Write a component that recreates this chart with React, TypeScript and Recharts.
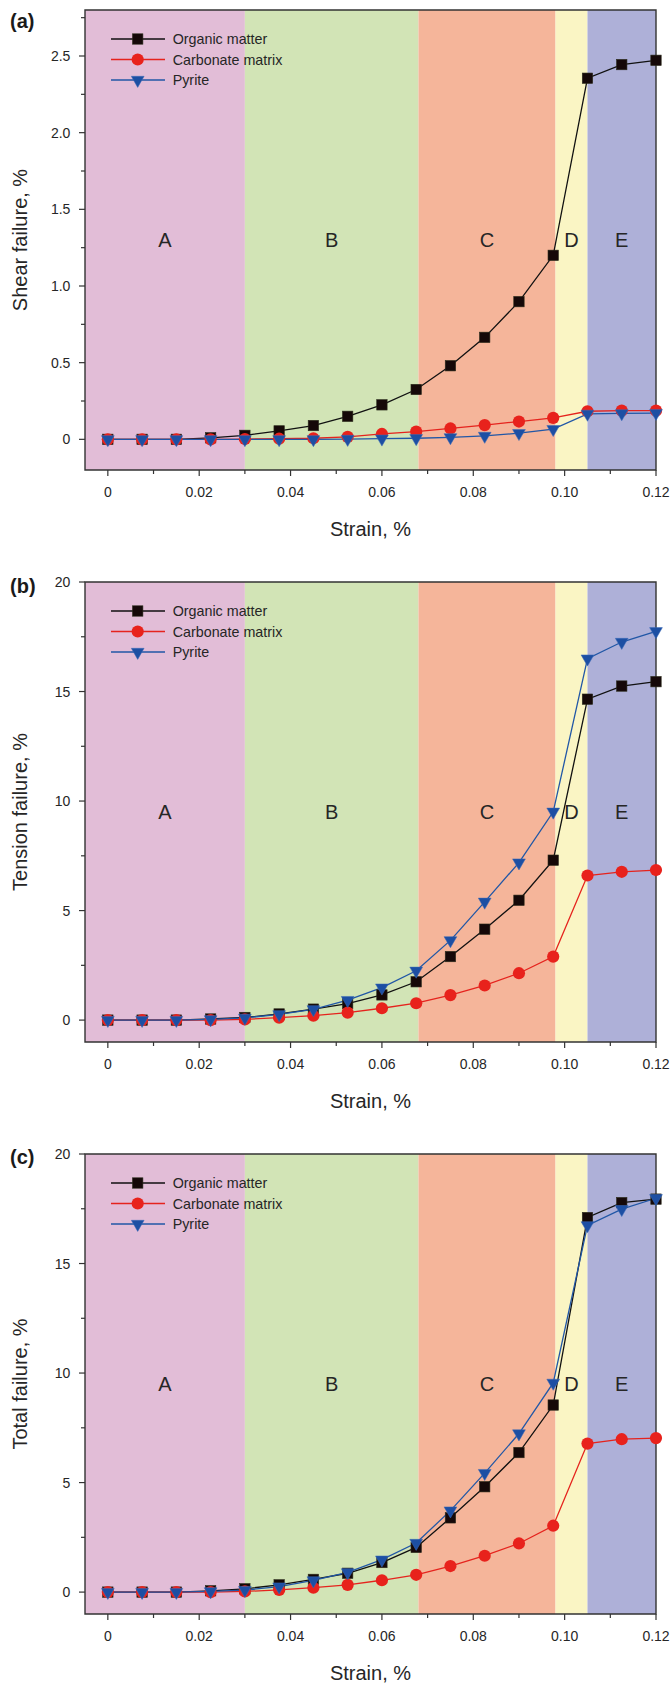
import { LineChart, Line, XAxis, YAxis, ReferenceArea, Legend } from 'recharts';

// strain, % (x)
const strain = [0, 0.0075, 0.015, 0.0225, 0.03, 0.0375, 0.045, 0.0525, 0.06, 0.0675, 0.075, 0.0825, 0.09, 0.0975, 0.105, 0.1125, 0.12];

// (a) shear failure, %
const shearOrganic = [0, 0, 0, 0.01, 0.026, 0.055, 0.09, 0.15, 0.225, 0.325, 0.48, 0.665, 0.898, 1.2, 2.355, 2.444, 2.472];
const shearCarbonate = [0, 0, 0, 0, 0.002, 0.004, 0.007, 0.016, 0.035, 0.05, 0.071, 0.093, 0.116, 0.14, 0.183, 0.187, 0.187];
const shearPyrite = [0, 0, 0, 0, 0, 0, 0, 0.002, 0.004, 0.007, 0.013, 0.022, 0.04, 0.066, 0.166, 0.169, 0.171];

// (b) tension failure, %
const tensionOrganic = [0, 0, 0, 0.05, 0.12, 0.28, 0.5, 0.75, 1.15, 1.75, 2.9, 4.15, 5.47, 7.3, 14.65, 15.25, 15.45];
const tensionCarbonate = [0, 0, 0, 0, 0.03, 0.11, 0.2, 0.34, 0.54, 0.77, 1.14, 1.58, 2.14, 2.9, 6.6, 6.77, 6.85];
const tensionPyrite = [0, 0, 0, 0.03, 0.1, 0.26, 0.49, 0.91, 1.48, 2.25, 3.64, 5.4, 7.19, 9.51, 16.5, 17.26, 17.75];

// (c) total failure, %
const totalOrganic = [0, 0, 0, 0.06, 0.15, 0.33, 0.58, 0.86, 1.35, 2.04, 3.39, 4.81, 6.37, 8.54, 17.1, 17.78, 17.94];
const totalCarbonate = [0, 0, 0, 0, 0.03, 0.1, 0.2, 0.33, 0.54, 0.79, 1.19, 1.66, 2.22, 3.03, 6.78, 6.98, 7.03];
const totalPyrite = [0, 0, 0, 0.03, 0.09, 0.25, 0.53, 0.9, 1.48, 2.24, 3.72, 5.43, 7.24, 9.55, 16.74, 17.48, 17.98];

// stage zones
const zoneNames = ['A', 'B', 'C', 'D', 'E'];
const zoneEdges = [-0.005, 0.03, 0.068, 0.098, 0.105, 0.12];
const zoneColors = ['#e2bdd7', '#d2e4b6', '#f5b59a', '#faf5c4', '#aeb0d8'];

// ticks
const xMajor = [0, 0.02, 0.04, 0.06, 0.08, 0.1, 0.12];
const xMajorLabels = ['0', '0.02', '0.04', '0.06', '0.08', '0.10', '0.12'];
const xMinor = [0.01, 0.03, 0.05, 0.07, 0.09, 0.11];
const shearMajor = [0, 0.5, 1, 1.5, 2, 2.5];
const shearLabels = ['0', '0.5', '1.0', '1.5', '2.0', '2.5'];
const shearMinor = [0.25, 0.75, 1.25, 1.75, 2.25, 2.75];
const failMajor = [0, 5, 10, 15, 20];
const failLabels = ['0', '5', '10', '15', '20'];
const failMinor = [2.5, 7.5, 12.5, 17.5];

const seriesNames = ['Organic matter', 'Carbonate matrix', 'Pyrite'];

const FONT = '"Liberation Sans", Arial, sans-serif';
const INK = '#262626';
const AXIS = '#333';
const COLORS = { organic: '#111', carbonate: '#e5231d', pyrite: '#2157a6' };
const TS = 6;
const TM = 2;

const Square = ({ cx, cy }: any) => (
  <rect x={cx - 5.2} y={cy - 5.2} width={10.4} height={10.4} fill="#150808" stroke="#2c2c1c" strokeWidth={0.6} />
);
const Circle = ({ cx, cy }: any) => <circle cx={cx} cy={cy} r={6.1} fill="#e8221c" />;
const Tri = ({ cx, cy }: any) => (
  <polygon
    points={`${cx - 6.4},${cy - 3.7} ${cx + 6.4},${cy - 3.7} ${cx},${cy + 7.4}`}
    fill="#1d4fa3"
    stroke="#3a6ab8"
    strokeWidth={0.5}
  />
);

const findIdx = (arr: number[], v: number) => arr.findIndex((m) => Math.abs(m - v) < 1e-9);

const XTick = (props: any) => {
  const { x, y, payload } = props;
  const i = findIdx(xMajor, payload.value);
  const axisY = y - TS - TM;
  return (
    <g>
      <line x1={x} x2={x} y1={axisY} y2={axisY + (i >= 0 ? 6 : 4)} stroke={AXIS} strokeWidth={1.2} />
      {i >= 0 && (
        <text x={x} y={axisY + 27} textAnchor="middle" fontSize={14} fill={INK}>
          {xMajorLabels[i]}
        </text>
      )}
    </g>
  );
};

const makeYTick = (majors: number[], labels: string[]) => (props: any) => {
  const { x, y, payload } = props;
  const i = findIdx(majors, payload.value);
  const axisX = x + TS + TM;
  return (
    <g>
      <line x1={axisX - (i >= 0 ? 6 : 4)} x2={axisX} y1={y} y2={y} stroke={AXIS} strokeWidth={1.2} />
      {i >= 0 && (
        <text x={axisX - 14.6} y={y + 5} textAnchor="end" fontSize={14} fill={INK}>
          {labels[i]}
        </text>
      )}
    </g>
  );
};

const LegendBox = () => {
  const markers = [
    <Square cx={32.7} cy={10} />,
    <Circle cx={32.7} cy={30.5} />,
    <Tri cx={32.7} cy={51} />,
  ];
  const colors = [COLORS.organic, COLORS.carbonate, COLORS.pyrite];
  return (
    <svg width={200} height={64} style={{ fontFamily: FONT, display: 'block' }}>
      {seriesNames.map((n, i) => (
        <g key={n}>
          <line x1={6} x2={60} y1={10 + i * 20.5} y2={10 + i * 20.5} stroke={colors[i]} strokeWidth={1.3} />
          {markers[i]}
          <text x={67.7} y={10 + i * 20.5 + 5} fontSize={14.3} fill={INK}>
            {n}
          </text>
        </g>
      ))}
    </svg>
  );
};

type PanelProps = {
  tag: string;
  tagTop: number;
  yLabel: string;
  organic: number[];
  carbonate: number[];
  pyrite: number[];
  domain: [number, number];
  majors: number[];
  labels: string[];
  minors: number[];
  height: number;
  bottom: number;
};

const Panel = ({ tag, tagTop, yLabel, organic, carbonate, pyrite, domain, majors, labels, minors, height, bottom }: PanelProps) => {
  const data = strain.map((s, i) => ({ strain: s, organic: organic[i], carbonate: carbonate[i], pyrite: pyrite[i] }));
  return (
    <div style={{ position: 'relative', width: 671, height }}>
      <LineChart width={671} height={height} data={data} margin={{ top: 10, right: 15, left: 0, bottom }}>
        {zoneNames.map((z, i) => (
          <ReferenceArea
            key={z}
            x1={zoneEdges[i]}
            x2={zoneEdges[i + 1]}
            fill={zoneColors[i]}
            fillOpacity={1}
            stroke="none"
            label={{ value: z, position: 'center', fontSize: 20, fill: INK }}
          />
        ))}
        <ReferenceArea x1={zoneEdges[0]} x2={zoneEdges[5]} fill="none" stroke={AXIS} strokeWidth={1.4} />
        <XAxis
          dataKey="strain"
          type="number"
          domain={[zoneEdges[0], zoneEdges[5]]}
          ticks={[...xMajor, ...xMinor]}
          interval={0}
          tickSize={TS}
          tickMargin={TM}
          tickLine={false}
          axisLine={false}
          tick={(p: any) => <XTick {...p} />}
          height={70}
          label={{ value: 'Strain, %', position: 'insideBottom', offset: 4, fontSize: 20, fill: INK }}
        />
        <YAxis
          type="number"
          domain={domain}
          ticks={[...majors, ...minors]}
          interval={0}
          width={85}
          tickSize={TS}
          tickMargin={TM}
          tickLine={false}
          axisLine={false}
          tick={makeYTick(majors, labels)}
          label={{
            value: yLabel,
            angle: -90,
            position: 'insideLeft',
            offset: 20,
            fontSize: 20,
            fill: INK,
            style: { textAnchor: 'middle' },
          }}
        />
        <Legend
          layout="horizontal"
          verticalAlign="middle"
          align="center"
          content={() => <LegendBox />}
          wrapperStyle={{ left: 105, top: 28.5, width: 200, height: 64 }}
        />
        <Line
          dataKey="organic"
          name={seriesNames[0]}
          stroke={COLORS.organic}
          strokeWidth={1.3}
          isAnimationActive={false}
          dot={(p: any) => <Square key={`o${p.index}`} cx={p.cx} cy={p.cy} />}
          activeDot={false}
        />
        <Line
          dataKey="carbonate"
          name={seriesNames[1]}
          stroke={COLORS.carbonate}
          strokeWidth={1.3}
          isAnimationActive={false}
          dot={(p: any) => <Circle key={`c${p.index}`} cx={p.cx} cy={p.cy} />}
          activeDot={false}
        />
        <Line
          dataKey="pyrite"
          name={seriesNames[2]}
          stroke={COLORS.pyrite}
          strokeWidth={1.3}
          isAnimationActive={false}
          dot={(p: any) => <Tri key={`p${p.index}`} cx={p.cx} cy={p.cy} />}
          activeDot={false}
        />
      </LineChart>
      <div
        style={{
          position: 'absolute',
          left: 10,
          top: tagTop,
          fontSize: 20,
          lineHeight: '20px',
          fontWeight: 'bold',
          color: '#1a1a1a',
        }}
      >
        {tag}
      </div>
    </div>
  );
};

export default function App() {
  return (
    <div style={{ position: 'absolute', left: 0, top: 0, width: 671, height: 1684, background: '#fff', fontFamily: FONT }}>
      <Panel
        tag="(a)"
        tagTop={11}
        yLabel="Shear failure, %"
        organic={shearOrganic}
        carbonate={shearCarbonate}
        pyrite={shearPyrite}
        domain={[-0.2, 2.8]}
        majors={shearMajor}
        labels={shearLabels}
        minors={shearMinor}
        height={572}
        bottom={32}
      />
      <Panel
        tag="(b)"
        tagTop={4}
        yLabel="Tension failure, %"
        organic={tensionOrganic}
        carbonate={tensionCarbonate}
        pyrite={tensionPyrite}
        domain={[-1, 20]}
        majors={failMajor}
        labels={failLabels}
        minors={failMinor}
        height={572}
        bottom={32}
      />
      <Panel
        tag="(c)"
        tagTop={2.5}
        yLabel="Total failure, %"
        organic={totalOrganic}
        carbonate={totalCarbonate}
        pyrite={totalPyrite}
        domain={[-1, 20]}
        majors={failMajor}
        labels={failLabels}
        minors={failMinor}
        height={540}
        bottom={0}
      />
    </div>
  );
}
